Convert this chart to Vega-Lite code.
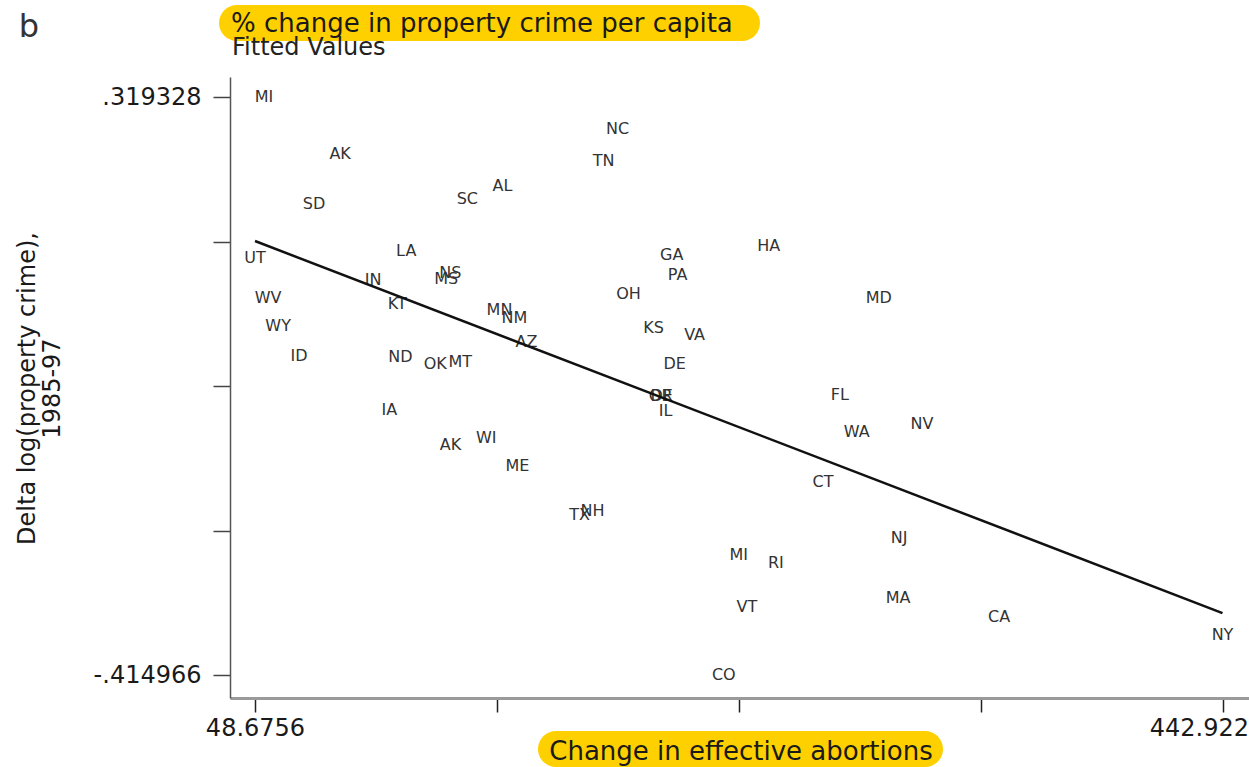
{
  "$schema": "https://vega.github.io/schema/vega-lite/v6.json",
  "usermeta": {"embedOptions": {"actions": false}},
  "autosize": "none",
  "width": 1019,
  "height": 621,
  "padding": {"left": 230, "top": 77, "right": 0, "bottom": 69},
  "background": "white",
  "config": {
    "view": {"stroke": null},
    "font": "DejaVu Sans"
  },
  "datasets": {
    "states": [
      {"state": "MI", "abortions": 52.35, "crime": 0.319328},
      {"state": "AK", "abortions": 83.37, "crime": 0.2472},
      {"state": "SD", "abortions": 72.76, "crime": 0.1839},
      {"state": "SC", "abortions": 135.2, "crime": 0.1902},
      {"state": "AL", "abortions": 149.5, "crime": 0.2067},
      {"state": "NC", "abortions": 196.4, "crime": 0.2788},
      {"state": "TN", "abortions": 190.7, "crime": 0.2383},
      {"state": "UT", "abortions": 48.6756, "crime": 0.1155},
      {"state": "LA", "abortions": 110.3, "crime": 0.1243},
      {"state": "NS", "abortions": 128.3, "crime": 0.0965},
      {"state": "MS", "abortions": 126.6, "crime": 0.0889},
      {"state": "IN", "abortions": 96.8, "crime": 0.0876},
      {"state": "WV", "abortions": 54.0, "crime": 0.0636},
      {"state": "KT", "abortions": 106.6, "crime": 0.056},
      {"state": "WY", "abortions": 58.1, "crime": 0.0281},
      {"state": "MN", "abortions": 148.3, "crime": 0.0496},
      {"state": "NM", "abortions": 154.4, "crime": 0.0382},
      {"state": "AZ", "abortions": 159.3, "crime": 0.0079},
      {"state": "ID", "abortions": 66.6, "crime": -0.0099},
      {"state": "ND", "abortions": 107.9, "crime": -0.0111},
      {"state": "OK", "abortions": 122.1, "crime": -0.02},
      {"state": "MT", "abortions": 132.3, "crime": -0.0174},
      {"state": "IA", "abortions": 103.4, "crime": -0.0782},
      {"state": "AK", "abortions": 128.3, "crime": -0.1225},
      {"state": "WI", "abortions": 142.9, "crime": -0.1137},
      {"state": "ME", "abortions": 155.6, "crime": -0.1491},
      {"state": "TX", "abortions": 180.9, "crime": -0.2112},
      {"state": "NH", "abortions": 186.2, "crime": -0.2061},
      {"state": "GA", "abortions": 218.5, "crime": 0.1193},
      {"state": "PA", "abortions": 220.9, "crime": 0.0939},
      {"state": "HA", "abortions": 258.0, "crime": 0.1307},
      {"state": "OH", "abortions": 200.9, "crime": 0.0699},
      {"state": "MD", "abortions": 302.9, "crime": 0.0636},
      {"state": "KS", "abortions": 211.1, "crime": 0.0256},
      {"state": "VA", "abortions": 227.8, "crime": 0.0167},
      {"state": "DE", "abortions": 219.7, "crime": -0.02},
      {"state": "OR", "abortions": 214.0, "crime": -0.0605},
      {"state": "DE", "abortions": 214.4, "crime": -0.0605},
      {"state": "IL", "abortions": 216.0, "crime": -0.0795},
      {"state": "FL", "abortions": 287.0, "crime": -0.0592},
      {"state": "WA", "abortions": 293.9, "crime": -0.1061},
      {"state": "NV", "abortions": 320.5, "crime": -0.096},
      {"state": "CT", "abortions": 280.1, "crime": -0.1694},
      {"state": "NJ", "abortions": 311.1, "crime": -0.2403},
      {"state": "MI", "abortions": 245.8, "crime": -0.2618},
      {"state": "RI", "abortions": 260.9, "crime": -0.2719},
      {"state": "MA", "abortions": 310.7, "crime": -0.3162},
      {"state": "VT", "abortions": 249.1, "crime": -0.3276},
      {"state": "CA", "abortions": 351.9, "crime": -0.3403},
      {"state": "NY", "abortions": 442.922, "crime": -0.3631},
      {"state": "CO", "abortions": 239.7, "crime": -0.414966}
    ],
    "fit": [
      {"abortions": 48.6756, "crime": 0.1365},
      {"abortions": 442.922, "crime": -0.3357}
    ]
  },
  "layer": [
    {
      "data": {"name": "states"},
      "mark": {"type": "text", "font": "DejaVu Sans", "fontSize": 16, "fill": "#333333", "align": "center", "baseline": "middle"},
      "encoding": {
        "text": {"field": "state"},
        "x": {
          "field": "abortions",
          "type": "quantitative",
          "title": null,
          "scale": {"domain": [38.489, 453.72], "nice": false, "zero": false},
          "axis": {
            "title": null,
            "values": [48.6756, 147.2372, 245.7988, 344.3604, 442.922],
            "labelExpr": "datum.value < 50 ? '48.6756' : (datum.value > 440 ? '442.922' : '')",
            "labelAlign": {"condition": {"test": "datum.value > 440", "value": "right"}, "value": "center"},
            "labelOffset": {"condition": {"test": "datum.value > 440", "value": 26}, "value": 0},
            "labelFont": "DejaVu Sans",
            "labelFontSize": 24,
            "labelColor": "#1a1a1a",
            "labelPadding": 4,
            "labelOverlap": false,
            "labelFlush": false,
            "tickSize": 14,
            "tickWidth": 1.5,
            "tickColor": "#222222",
            "domainColor": "#9a9a9a",
            "domainWidth": 3,
            "grid": false
          }
        },
        "y": {
          "field": "crime",
          "type": "quantitative",
          "title": ["Delta log(property crime),", "1985-97"],
          "scale": {"domain": [-0.44353, 0.34472], "nice": false, "zero": false},
          "axis": {
            "title": ["Delta log(property crime),", "1985-97"],
            "titleFont": "DejaVu Sans",
            "titleFontSize": 24,
            "titleFontWeight": "normal",
            "titleColor": "#1a1a1a",
            "titleLineHeight": 25,
            "titleX": -191,
            "titleY": 311,
            "titleAngle": -90,
            "titleAlign": "center",
            "titleBaseline": "bottom",
            "values": [0.319328, 0.1357545, -0.047819, -0.2313925, -0.414966],
            "labelExpr": "datum.value > 0.3 ? '.319328' : (datum.value < -0.4 ? '-.414966' : '')",
            "labelFont": "DejaVu Sans",
            "labelFontSize": 24,
            "labelColor": "#1a1a1a",
            "labelPadding": 12,
            "labelOverlap": false,
            "labelFlush": false,
            "tickSize": 17,
            "tickWidth": 1.5,
            "tickColor": "#444444",
            "domainColor": "#555555",
            "domainWidth": 1.5,
            "grid": false
          }
        }
      }
    },
    {
      "data": {"name": "fit"},
      "mark": {"type": "line", "color": "#111111", "strokeWidth": 2.5},
      "encoding": {
        "x": {"field": "abortions", "type": "quantitative", "title": null, "scale": {"domain": [38.489, 453.72], "nice": false, "zero": false}},
        "y": {"field": "crime", "type": "quantitative", "title": ["Delta log(property crime),", "1985-97"], "scale": {"domain": [-0.44353, 0.34472], "nice": false, "zero": false}}
      }
    },
    {
      "data": {"values": [{}]},
      "mark": {"type": "rect", "fill": "#FFD000", "cornerRadius": 18},
      "encoding": {
        "x": {"datum": 34.01, "type": "quantitative", "scale": {"domain": [38.489, 453.72], "nice": false, "zero": false}},
        "x2": {"datum": 254.46},
        "y": {"datum": 0.43611, "type": "quantitative", "scale": {"domain": [-0.44353, 0.34472], "nice": false, "zero": false}},
        "y2": {"datum": 0.39041}
      }
    },
    {
      "data": {"values": [{}]},
      "mark": {"type": "rect", "fill": "#FFD000", "cornerRadius": 18},
      "encoding": {
        "x": {"datum": 164.0, "type": "quantitative", "scale": {"domain": [38.489, 453.72], "nice": false, "zero": false}},
        "x2": {"datum": 329.03},
        "y": {"datum": -0.48542, "type": "quantitative", "scale": {"domain": [-0.44353, 0.34472], "nice": false, "zero": false}},
        "y2": {"datum": -0.53111}
      }
    },
    {
      "data": {"values": [{}]},
      "mark": {"type": "text", "text": "% change in property crime per capita", "font": "DejaVu Sans", "fontSize": 26, "fill": "#1a1a1a", "align": "left", "baseline": "alphabetic"},
      "encoding": {
        "x": {"datum": 38.9, "type": "quantitative", "scale": {"domain": [38.489, 453.72], "nice": false, "zero": false}},
        "y": {"datum": 0.40247, "type": "quantitative", "scale": {"domain": [-0.44353, 0.34472], "nice": false, "zero": false}}
      }
    },
    {
      "data": {"values": [{}]},
      "mark": {"type": "text", "text": "Change in effective abortions", "font": "DejaVu Sans", "fontSize": 26, "fill": "#1a1a1a", "align": "center", "baseline": "alphabetic"},
      "encoding": {
        "x": {"datum": 246.71, "type": "quantitative", "scale": {"domain": [38.489, 453.72], "nice": false, "zero": false}},
        "y": {"datum": -0.52223, "type": "quantitative", "scale": {"domain": [-0.44353, 0.34472], "nice": false, "zero": false}}
      }
    },
    {
      "data": {"values": [{}]},
      "mark": {"type": "text", "text": "Fitted Values", "font": "DejaVu Sans", "fontSize": 24, "fill": "#222222", "align": "left", "baseline": "alphabetic"},
      "encoding": {
        "x": {"datum": 39.3, "type": "quantitative", "scale": {"domain": [38.489, 453.72], "nice": false, "zero": false}},
        "y": {"datum": 0.37264, "type": "quantitative", "scale": {"domain": [-0.44353, 0.34472], "nice": false, "zero": false}}
      }
    },
    {
      "data": {"values": [{}]},
      "mark": {"type": "text", "text": "b", "font": "DejaVu Sans", "fontSize": 32, "fill": "#333333", "align": "center", "baseline": "alphabetic"},
      "encoding": {
        "x": {"datum": -43.42, "type": "quantitative", "scale": {"domain": [38.489, 453.72], "nice": false, "zero": false}},
        "y": {"datum": 0.39549, "type": "quantitative", "scale": {"domain": [-0.44353, 0.34472], "nice": false, "zero": false}}
      }
    }
  ]
}
